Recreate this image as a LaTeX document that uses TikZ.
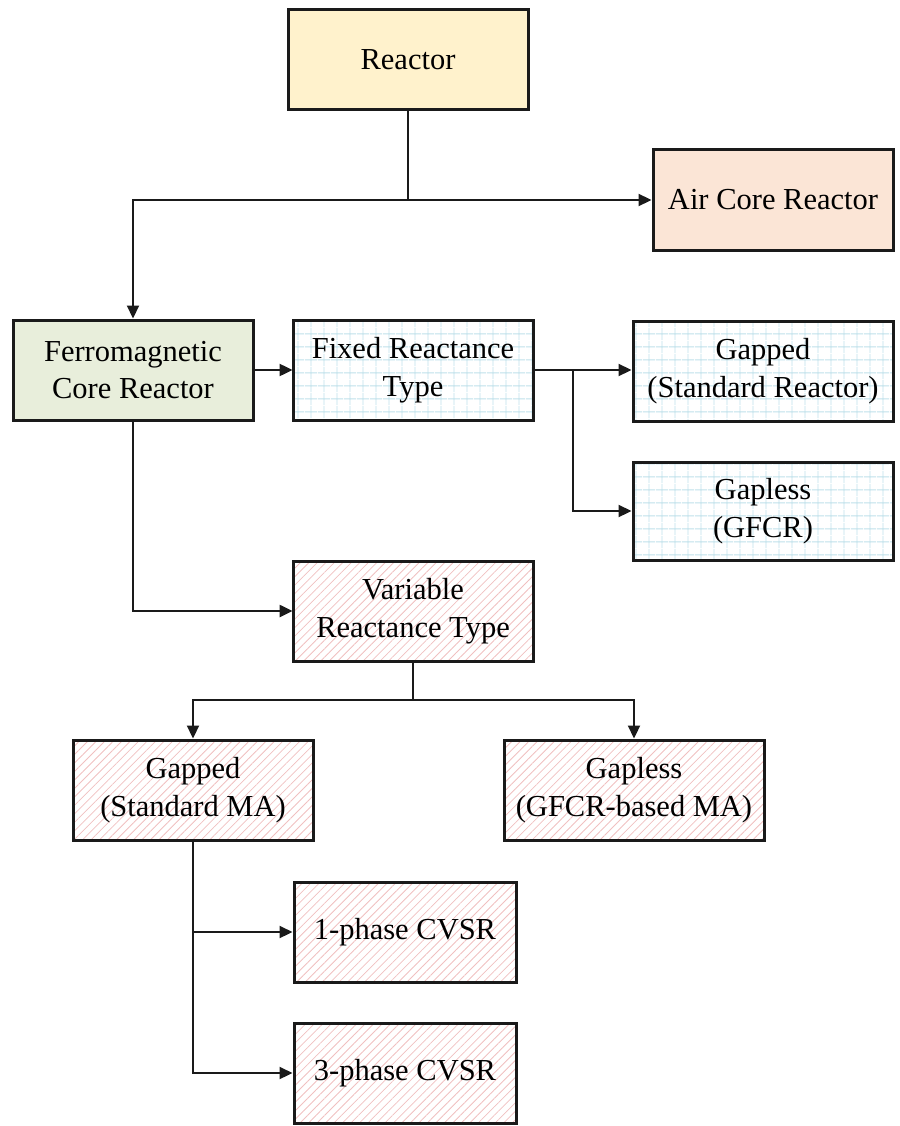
\documentclass[tikz,border=0pt]{standalone}
\usepackage{fontspec}
\setmainfont{Liberation Serif}
\usetikzlibrary{arrows.meta,patterns.meta}

\definecolor{rootfill}{HTML}{FFF2CC}
\definecolor{airfill}{HTML}{FBE5D6}
\definecolor{ferrofill}{HTML}{E8EEDB}
\definecolor{gridcol}{HTML}{BFE0EA}
\definecolor{hatchcol}{HTML}{F0C0C0}
\definecolor{edge}{HTML}{1A1A1A}

\tikzset{
  box/.style={draw=edge, line width=3pt, rectangle, align=center,
    minimum width=240pt, minimum height=100pt, inner sep=2pt,
    font=\fontsize{30.5}{37.5}\selectfont},
  gridbox/.style={box, pattern={Hatch[angle=0, distance=13pt, line width=0.9pt]}, pattern color=gridcol},
  hatchbox/.style={box, pattern={Lines[angle=45, distance=6pt, line width=0.8pt]}, pattern color=hatchcol},
  link/.style={draw=edge, line width=2.2pt},
  arr/.style={link, -{Triangle[length=13pt, width=12pt]}}
}

\begin{document}
\begin{tikzpicture}[x=1pt, y=-1pt]
\useasboundingbox (0,0) rectangle (899,1126);

% boxes
\node[box, fill=rootfill]  (reactor) at (408,60)  {Reactor};
\node[box, fill=airfill]   (air)     at (773,200) {Air Core Reactor};
\node[box, fill=ferrofill] (ferro)   at (133,370) {Ferromagnetic\\Core Reactor};
\node[gridbox]  (fixed)    at (413,370) {Fixed Reactance\\Type};
\node[gridbox, minimum width=260pt]  (gapped)   at (763,371) {Gapped\\(Standard Reactor)};
\node[gridbox, minimum width=260pt, minimum height=98pt] (gapless) at (763,511) {Gapless\\(GFCR)};
\node[hatchbox] (variable) at (413,611) {Variable\\Reactance Type};
\node[hatchbox] (gappedma) at (193,790) {Gapped\\(Standard MA)};
\node[hatchbox, minimum width=260pt] (gaplessma) at (634,790) {Gapless\\(GFCR-based MA)};
\node[hatchbox, minimum width=222pt] (one)   at (405,932)  {1-phase CVSR};
\node[hatchbox, minimum width=222pt] (three) at (405,1073) {3-phase CVSR};

% junction points
\coordinate (j1) at (408,200);
\coordinate (j2) at (573,370);
\coordinate (j3) at (413,700);

% connectors
\draw[link] (reactor.south) -- (j1);
\draw[arr] (j1) -| (ferro.north);
\draw[arr] (j1) -- (air.west);
\draw[arr] (ferro.east) -- (fixed.west);
\draw[link] (fixed.east) -- (j2);
\draw[arr] (j2) -- (gapped.west |- j2);
\draw[arr] (j2) |- (gapless.west);
\draw[arr] (ferro.south) |- (variable.west);
\draw[link] (variable.south) -- (j3);
\draw[arr] (j3) -| (gappedma.north);
\draw[arr] (j3) -| (gaplessma.north);
\draw[arr] (gappedma.south) |- (one.west);
\draw[arr] (gappedma.south) |- (three.west);
\end{tikzpicture}
\end{document}
